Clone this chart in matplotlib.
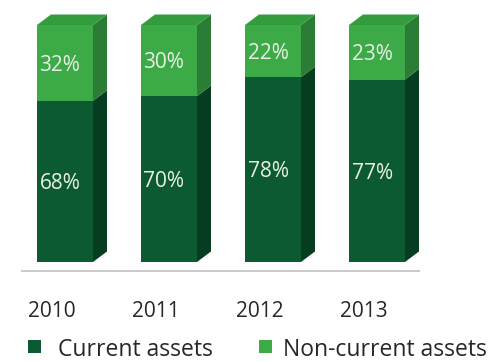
import matplotlib
matplotlib.use('Agg')
import matplotlib.pyplot as plt
from matplotlib.patches import Polygon, Rectangle
import numpy as np

# ---- data ----
years = ['2010', '2011', '2012', '2013']
current_assets = [68, 70, 78, 77]
noncurrent_assets = [32, 30, 22, 23]
series_labels = ['Current assets', 'Non-current assets']

# ---- colours ----
dark_front = '#0c5a31'
dark_side = '#063d20'
light_front = '#3baa47'
light_side = '#2b7c34'
light_top = '#339c3d'
label_color = '#e9f1e4'
text_dark = '#2a2627'

plt.rcParams['font.family'] = ['Open Sans', 'DejaVu Sans']

W, H = 490, 362
fig = plt.figure(figsize=(W / 100, H / 100), dpi=100)
fig.patch.set_facecolor('white')
ax = fig.add_axes([0, 0, 1, 1])

# pixel layout helpers (x: 104 px per category, y: 2.37 px per percent)
px0, pxs = 65, 104
py0, pys = 262, 2.37
ax.set_xlim((0 - px0) / pxs, (W - px0) / pxs)
ax.set_ylim((py0 - H) / pys, py0 / pys)
ax.axis('off')

bar_w = 56 / pxs
dx = 14 / pxs
dy = 10.5 / pys

x = np.arange(len(years))
cur = np.array(current_assets)
non = np.array(noncurrent_assets)
tot = cur + non

ax.bar(x, cur, width=bar_w, color=dark_front, zorder=3, linewidth=0)
ax.bar(x, non, bottom=cur, width=bar_w, color=light_front, zorder=3, linewidth=0)

for i in range(len(x)):
    xl = x[i] - bar_w / 2
    xr = x[i] + bar_w / 2
    # side faces
    for b, t, c in [(0, cur[i], dark_side), (cur[i], tot[i], light_side)]:
        ax.add_patch(Polygon([(xr, b), (xr + dx, b + dy), (xr + dx, t + dy), (xr, t)],
                             closed=True, facecolor=c, edgecolor='none', zorder=2))
    # top face
    ax.add_patch(Polygon([(xl, tot[i]), (xl + dx, tot[i] + dy), (xr + dx, tot[i] + dy), (xr, tot[i])],
                         closed=True, facecolor=light_top, edgecolor='none', zorder=2))
    # value labels
    ax.text(xl + 2.5 / pxs, cur[i] + non[i] / 2 - 1, f'{non[i]}%', ha='left', va='center',
            color=label_color, fontsize=15, zorder=5)
    ax.text(xl + 2.5 / pxs, cur[i] / 2 - 1, f'{cur[i]}%', ha='left', va='center',
            color=label_color, fontsize=15, zorder=5)
    # year labels
    ax.text(x[i] - 13 / pxs, -21, years[i], ha='center', va='center',
            color=text_dark, fontsize=15)

# baseline
ax.plot([x[0] - 43 / pxs, x[-1] + 42 / pxs], [-3.8, -3.8],
        color='#c9c9c9', linewidth=1.4, zorder=1)

# legend (figure pixel coordinates)
def fx(p):
    return p / W

def fy(p):
    return 1 - p / H

for (mx, tx), lab, col in zip([(28, 58), (259, 283)], series_labels, [dark_front, light_front]):
    fig.patches.append(Rectangle((fx(mx), fy(353)), 13 / W, 13 / H, transform=fig.transFigure,
                                 facecolor=col, edgecolor='none'))
    fig.text(fx(tx), fy(350), lab, ha='left', va='center', fontsize=16.5, color=text_dark)

fig.savefig('out.png', dpi=100, facecolor='white')
